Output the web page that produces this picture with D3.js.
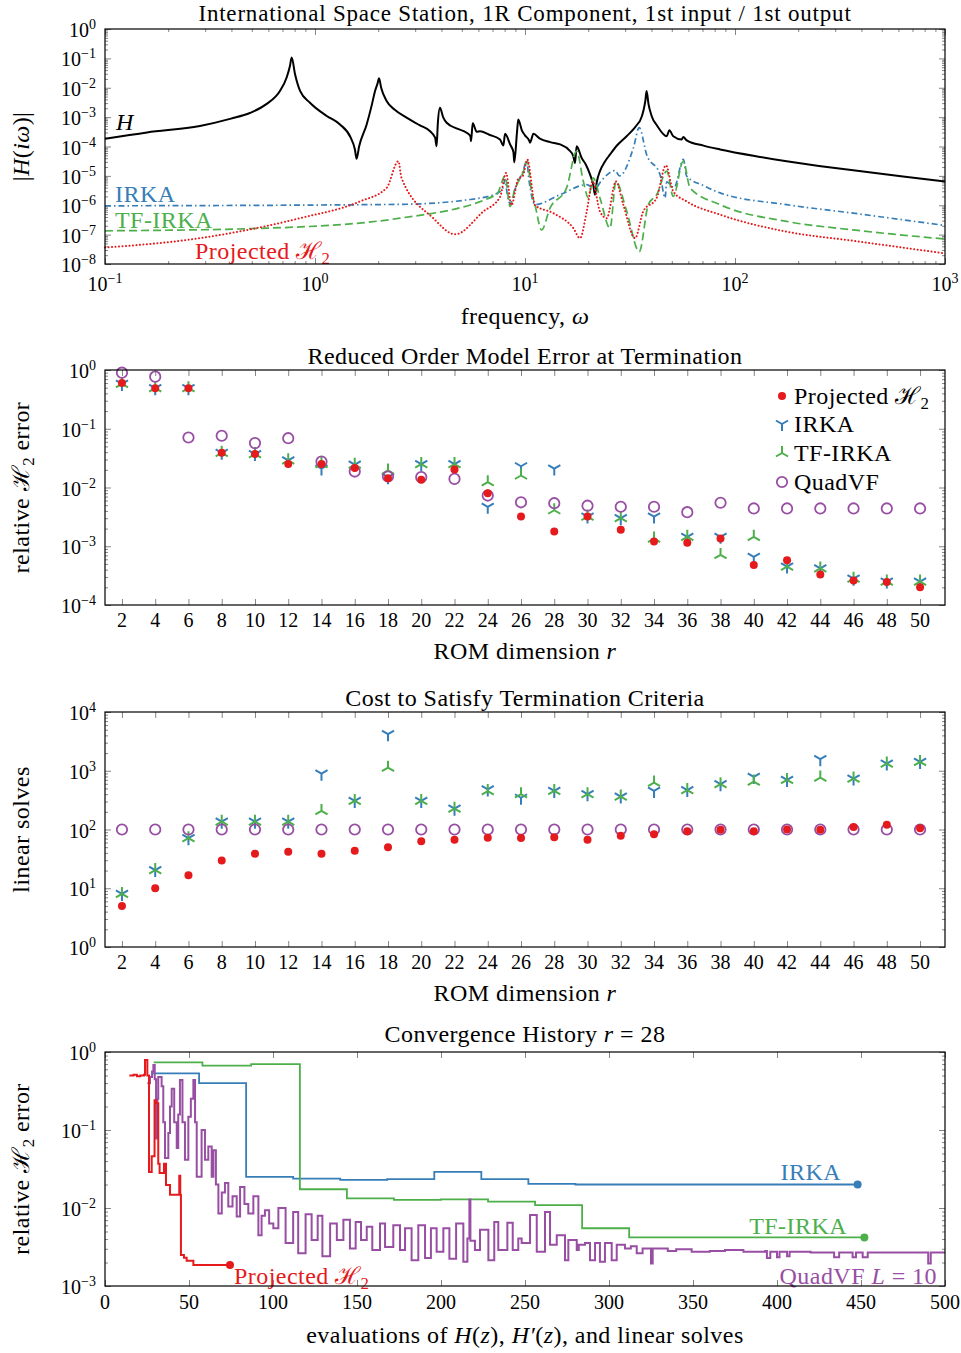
<!DOCTYPE html>
<html>
<head>
<meta charset="utf-8">
<script src="https://cdn.jsdelivr.net/npm/d3@7"></script>
<style>
  body { margin: 0; background: #fff; }
</style>
</head>
<body>
<script>
// ── Data: panel 1, frequency response ([log10 ω, log10 |H(iω)|]) ──
const freqH = [
  [-1.0,-3.74],[-0.8,-3.52],[-0.548,-3.30],[-0.4,-3.05],[-0.31,-2.86],[-0.23,-2.55],[-0.167,-2.11],
  [-0.135,-1.65],[-0.119,-1.25],[-0.111,-0.97],[-0.095,-1.54],[-0.071,-2.11],[-0.024,-2.51],[0.056,-2.96],
  [0.119,-3.25],[0.17,-3.70],[0.19,-4.10],[0.198,-4.42],[0.21,-4.00],[0.246,-3.25],[0.27,-2.60],
  [0.286,-2.11],[0.298,-1.85],[0.305,-1.68],[0.315,-2.00],[0.341,-2.45],[0.38,-2.75],[0.436,-3.02],
  [0.5,-3.28],[0.548,-3.48],[0.572,-3.70],[0.579,-3.99],[0.585,-3.20],[0.595,-2.68],[0.61,-3.00],
  [0.627,-3.19],[0.68,-3.40],[0.722,-3.53],[0.74,-3.65],[0.743,-3.82],[0.751,-3.21],[0.770,-3.50],
  [0.786,-3.48],[0.83,-3.60],[0.881,-3.76],[0.897,-3.97],[0.905,-3.57],[0.929,-3.93],[0.945,-4.20],
  [0.949,-4.54],[0.962,-3.50],[0.968,-3.08],[0.985,-3.45],[1.0,-3.62],[1.02,-3.80],[1.024,-3.87],
  [1.040,-3.57],[1.071,-3.73],[1.12,-3.85],[1.167,-3.93],[1.21,-4.12],[1.230,-4.33],[1.238,-4.56],
  [1.246,-3.99],[1.270,-4.39],[1.29,-4.62],[1.310,-4.96],[1.325,-5.30],[1.333,-5.64],[1.342,-5.20],
  [1.357,-4.84],[1.38,-4.52],[1.405,-4.27],[1.44,-3.95],[1.484,-3.65],[1.52,-3.38],[1.540,-3.20],
  [1.548,-3.12],[1.565,-2.75],[1.573,-2.45],[1.579,-2.11],[1.588,-2.55],[1.603,-2.96],[1.63,-3.30],
  [1.675,-3.65],[1.687,-3.45],[1.706,-3.65],[1.746,-3.76],[1.754,-3.68],[1.770,-3.79],[1.85,-3.97],
  [1.929,-4.10],[2.1,-4.33],[2.246,-4.50],[2.4,-4.66],[2.563,-4.81],[2.8,-5.02],[3.0,-5.19]
];
const freqIrka = [
  [-1.0,-6.02],[0.405,-5.97],[0.722,-5.82],[0.865,-5.60],[0.895,-5.40],[0.905,-5.13],[0.915,-5.60],
  [0.929,-5.95],[0.95,-5.50],[0.968,-5.20],[0.990,-4.85],[1.008,-4.50],[1.02,-5.20],[1.048,-5.98],
  [1.167,-5.64],[1.294,-5.30],[1.333,-5.45],[1.36,-5.20],[1.429,-4.82],[1.45,-5.00],[1.516,-4.05],
  [1.544,-3.36],[1.579,-4.27],[1.643,-4.96],[1.667,-5.75],[1.675,-5.20],[1.71,-5.40],[1.754,-4.44],
  [1.770,-5.01],[1.85,-5.33],[1.929,-5.58],[2.246,-5.98],[2.563,-6.27],[3.0,-6.69]
];
const freqTfIrka = [
  [-1.0,-6.87],[-0.23,-6.78],[0.405,-6.44],[0.865,-5.64],[0.905,-5.01],[0.929,-6.04],[0.95,-5.50],
  [0.968,-5.20],[0.99,-4.90],[1.011,-4.50],[1.03,-5.50],[1.048,-6.00],[1.079,-6.84],[1.119,-6.10],
  [1.198,-5.41],[1.246,-4.16],[1.278,-5.19],[1.302,-5.75],[1.325,-5.07],[1.357,-5.75],[1.405,-6.78],
  [1.433,-5.19],[1.484,-6.20],[1.544,-7.58],[1.587,-5.98],[1.627,-5.64],[1.675,-4.84],[1.706,-5.70],
  [1.754,-4.50],[1.786,-5.41],[1.929,-5.98],[2.246,-6.55],[2.563,-6.84],[3.0,-7.15]
];
const freqProj = [
  [-1.0,-7.44],[-0.548,-7.12],[-0.071,-6.44],[0.214,-5.87],[0.341,-5.41],[0.397,-4.50],[0.412,-5.07],
  [0.563,-6.44],[0.667,-6.99],[0.802,-6.21],[0.881,-5.72],[0.910,-4.90],[0.935,-6.00],[0.968,-5.10],
  [0.990,-5.00],[1.011,-4.44],[1.048,-6.00],[1.135,-6.27],[1.230,-6.78],[1.262,-7.12],[1.294,-6.21],
  [1.322,-5.19],[1.357,-6.21],[1.389,-6.44],[1.433,-5.19],[1.468,-5.98],[1.524,-7.12],[1.563,-6.21],
  [1.627,-5.75],[1.671,-4.64],[1.706,-5.53],[1.770,-5.87],[1.929,-6.32],[2.246,-6.90],[2.563,-7.21],
  [3.0,-7.64]
];

// ── Data: panels 2 and 3, per ROM dimension ─────────────────────────────────────
const romDims = [2,4,6,8,10,12,14,16,18,20,22,24,26,28,30,32,34,36,38,40,42,44,46,48,50];

const errProjected = [0.60,0.49,0.49,0.039,0.037,0.025,0.025,0.0215,0.0144,0.0135,0.0203,0.0080,0.0032,
  0.00179,0.0032,0.0019,0.0012,0.00115,0.00135,0.00048,0.00058,0.00033,0.00026,0.000246,0.0002];
const errIrka = [0.58,0.49,0.49,0.039,0.037,0.029,0.021,0.0245,0.015,0.025,0.025,0.0047,0.023,
  0.021,0.0032,0.0030,0.0032,0.00145,0.00145,0.00066,0.00045,0.00042,0.00028,0.00025,0.00025];
const errTfIrka = [0.58,0.49,0.49,0.039,0.037,0.029,0.025,0.0245,0.0195,0.025,0.025,0.0123,0.016,
  0.0041,0.0032,0.0030,0.00135,0.00145,0.00071,0.00145,0.00045,0.00042,0.00028,0.00025,0.00025];
const errQuadVF = [0.90,0.77,0.071,0.076,0.057,0.069,0.0276,0.0187,0.0154,0.015,0.014,0.0073,0.0056,
  0.0054,0.0049,0.0047,0.0047,0.0038,0.0055,0.0044,0.0044,0.0044,0.0044,0.0044,0.0044];

const costProjected = [5.0,10,16.7,29.8,38.6,41.8,38.6,43.5,49.7,63,67,72.5,72,73.6,67,78,83,93,99,93,100,99,110,121,105];
const costIrka = [8.0,20.4,71,136,136,136,893,306,4190,306,226,480,347,453,400,363,453,470,590,785,697,1570,735,1325,1410];
const costTfIrka = [8.0,20.4,71,136,136,136,207,306,1130,306,226,450,400,453,400,363,628,470,590,655,697,765,735,1325,1410];
const costQuadVF = [100,100,100,100,100,100,100,100,100,100,100,100,100,100,100,100,100,100,100,100,100,100,100,100,100];

// ── Data: panel 4, convergence history at r = 28 ────────────────────────────────
const histIrkaEval = [28,56,84,112,140,168,196,224,252,280,308,336,364,392,420,448];
const histIrkaErr  = [0.533,0.40,0.0250,0.0238,0.0229,0.0235,0.029,0.0234,0.0204,0.0200,0.0200,0.0200,0.0200,0.0200,0.0200,0.0200];
const histTfIrkaEval = [29,58,87,116,144,172,200,228,256,284,312,340,368,396,424,452];
const histTfIrkaErr  = [0.738,0.67,0.70,0.0174,0.0133,0.0127,0.0129,0.0121,0.0109,0.0055,0.0042,0.0042,0.0042,0.0042,0.0042,0.0042];
const histProjEval = [14.5,17,19,21,23.2,23.8,25.2,26.2,27.8,29.5,30.4,31.7,32.5,35.1,36.3,38.7,44.2,44.8,45.2,47,48.6,52.6,74.4];
const histProjErr  = [0.50,0.51,0.49,0.50,0.51,0.79,0.50,0.029,0.046,0.24,0.22,0.037,0.028,0.037,0.0197,0.0148,0.026,0.0148,0.0025,0.0023,0.0021,0.00186,0.00186];
// QuadVF: [evaluations, log10 relative error]
const histQuadVF = [
  [25.2,-0.40],[26.8,-0.32],[28.0,-0.25],[28.8,-0.167],[29.6,-0.35],[30.4,-1.11],[31.2,-0.60],[31.7,-0.32],
  [33.7,-0.44],[34.7,-0.90],[35.7,-1.36],[37.7,-1.04],[38.7,-0.70],[39.7,-0.47],[41.2,-0.90],[42.7,-1.23],
  [43.6,-0.80],[44.6,-0.36],[46.1,-0.90],[47.6,-1.38],[49.6,-0.83],[51.1,-0.60],[52.6,-0.36],[53.6,-0.90],
  [54.6,-1.60],[57.5,-1.00],[59.5,-1.38],[61.5,-1.21],[63.5,-1.60],[64.5,-1.26],[66,-1.70],[67.5,-2.07],
  [69.5,-1.80],[71.4,-1.68],[73.4,-1.98],[75.9,-1.85],[78.4,-2.11],[80.4,-1.73],[83,-1.95],[85.3,-2.07],
  [88.3,-1.85],[91.3,-2.35],[93.2,-2.10],[95.2,-2.03],[97.7,-2.20],[100.2,-2.26],[103.2,-2.00],[105.2,-2.00],
  [107.5,-2.45],[112,-2.05],[115,-2.58],[119.4,-2.08],[123,-2.41],[126.6,-2.10],[129.4,-2.62],[134,-2.20],
  [138,-2.41],[141.9,-2.15],[145.8,-2.52],[149.2,-2.18],[152.4,-2.41],[155.8,-2.24],[159.1,-2.54],[163.7,-2.20],
  [166.7,-2.50],[171.6,-2.22],[175.6,-2.54],[178.6,-2.26],[182.5,-2.67],[186.5,-2.22],[190.5,-2.64],[194,-2.26],
  [197.4,-2.56],[201.4,-2.26],[205,-2.65],[209,-2.20],[213.3,-2.69],[215.7,-2.39],[216.9,-1.89],[217.5,-2.42],
  [220.2,-2.54],[223.2,-2.28],[228.2,-2.67],[231.7,-2.18],[234.1,-2.54],[239.5,-2.19],[242.7,-2.54],[246,-2.39],
  [248,-2.45],[253,-2.09],[257,-2.56],[261.9,-2.05],[264.9,-2.47],[268.9,-2.35],[273.8,-2.67],[275.8,-2.41],
  [280.8,-2.54],[282,-2.47],[285.7,-2.45],[288.7,-2.67],[291.7,-2.45],[294.6,-2.69],[297.6,-2.45],[301.6,-2.67],
  [304.6,-2.47],[309.5,-2.52],[313,-2.49],[316.5,-2.58],[320,-2.52],[325,-2.71],[326,-2.52],[335,-2.55],
  [340,-2.53],[349.2,-2.56],[360,-2.55],[369,-2.54],[380,-2.56],[393,-2.55],[394,-2.64],[396,-2.56],
  [400,-2.63],[401.5,-2.56],[406,-2.62],[407.5,-2.56],[420,-2.57],[434,-2.63],[437,-2.57],[445,-2.63],
  [447,-2.57],[451,-2.63],[454,-2.57],[470,-2.57],[490,-2.71],[491.5,-2.57],[500,-2.57]
];

// ── Style ───────────────────────────────────────────────────────────────────────
const FONT = '"Liberation Serif", "DejaVu Serif", serif';
const FS_LABEL = 24;
const FS_TICK = 20;
const LABEL_SPACING = 0.45;
const RED = '#e41a1c', BLUE = '#377eb8', GREEN = '#4daf4a', PURPLE = '#984ea3';
const TICK_COLOR = '#666';

const BOX1 = { l: 105, r: 945, t: 29,   b: 264 };
const BOX2 = { l: 105, r: 945, t: 370,  b: 605 };
const BOX3 = { l: 105, r: 945, t: 712,  b: 947 };
const BOX4 = { l: 105, r: 945, t: 1052, b: 1286 };

const svg = d3.select('body').append('svg')
  .attr('width', 961).attr('height', 1353)
  .style('font-family', FONT);

// ── Text helpers ────────────────────────────────────────────────────────────────
// parts: [{t, i (italic), sub, sup}]
function rich(textSel, parts) {
  let shift = 0;
  parts.forEach(p => {
    const ts = textSel.append('tspan').text(p.t);
    const want = p.sub ? 5 : p.sup ? -8 : 0;
    if (want !== shift) { ts.attr('dy', want - shift); shift = want; }
    if (p.sub || p.sup) ts.attr('font-size', '0.7em');
    if (p.i) ts.attr('font-style', 'italic');
  });
  return textSel;
}

function label(g, x, y, parts, o = {}) {
  const size = o.size || FS_LABEL;
  const t = g.append('text').attr('x', x).attr('y', y)
    .attr('font-size', size)
    .attr('text-anchor', o.anchor || 'start')
    .attr('fill', o.color || '#000');
  if (size !== FS_TICK) t.attr('letter-spacing', o.spacing ?? LABEL_SPACING);
  if (o.rotate) t.attr('transform', `rotate(-90,${x},${y})`);
  rich(t, typeof parts === 'string' ? [{ t: parts }] : parts);
  return t;
}

const H2 = [{ t: 'ℋ' }, { t: '2', sub: true }];
const pow10 = e => [{ t: '10' }, { t: e < 0 ? '\u2212' + (-e) : String(e), sup: true }];

// ── Axis helpers ────────────────────────────────────────────────────────────────
function logTicks(lo, hi) {
  const major = [], minor = [];
  for (let e = lo; e <= hi; e++) {
    major.push(Math.pow(10, e));
    if (e < hi) for (let m = 2; m <= 9; m++) minor.push(m * Math.pow(10, e));
  }
  return { major, minor };
}

function innerTicks(g, scale, box, dir, values, len) {
  const a = g.append('g');
  if (dir === 'y') {
    a.append('g').attr('transform', `translate(${box.l},0)`)
      .call(d3.axisRight(scale).tickValues(values).tickSize(len).tickFormat(''));
    a.append('g').attr('transform', `translate(${box.r},0)`)
      .call(d3.axisLeft(scale).tickValues(values).tickSize(len).tickFormat(''));
  } else {
    a.append('g').attr('transform', `translate(0,${box.t})`)
      .call(d3.axisBottom(scale).tickValues(values).tickSize(len).tickFormat(''));
    a.append('g').attr('transform', `translate(0,${box.b})`)
      .call(d3.axisTop(scale).tickValues(values).tickSize(len).tickFormat(''));
  }
  a.selectAll('.domain').remove();
  a.selectAll('.tick line').attr('stroke', TICK_COLOR).attr('stroke-width', 0.8);
}

function logAxisY(g, y, box, lo, hi) {
  const t = logTicks(lo, hi);
  innerTicks(g, y, box, 'y', t.minor, 3);
  innerTicks(g, y, box, 'y', t.major, 6);
  for (let e = lo; e <= hi; e++) {
    label(g, box.l - 9, y(Math.pow(10, e)) + 8, pow10(e), { size: FS_TICK, anchor: 'end' });
  }
}

function frame(g, box) {
  g.append('rect')
    .attr('x', box.l).attr('y', box.t)
    .attr('width', box.r - box.l).attr('height', box.b - box.t)
    .attr('fill', 'none').attr('stroke', '#000').attr('stroke-width', 1.2);
}

function triPath(L, down) {
  const s = down ? 1 : -1, a = 0.866 * L, b = 0.5 * L;
  return `M0,0L0,${s * L}M0,0L${-a},${-s * b}M0,0L${a},${-s * b}`;
}

// ── Panel 1: frequency response ─────────────────────────────────────────────────
{
  const g = svg.append('g');
  const x = d3.scaleLog().domain([1e-1, 1e3]).range([BOX1.l, BOX1.r]);
  const y = d3.scaleLog().domain([1e-8, 1e0]).range([BOX1.b, BOX1.t]);

  const xt = logTicks(-1, 3);
  innerTicks(g, x, BOX1, 'x', xt.minor, 3);
  innerTicks(g, x, BOX1, 'x', xt.major, 6);
  logAxisY(g, y, BOX1, -8, 0);
  for (let e = -1; e <= 3; e++) label(g, x(Math.pow(10, e)), 291, pow10(e), { size: FS_TICK, anchor: 'middle' });

  const line = d3.line()
    .curve(d3.curveMonotoneX)
    .x(d => x(Math.pow(10, d[0])))
    .y(d => y(Math.pow(10, d[1])));

  g.append('path').datum(freqH).attr('d', line)
    .attr('fill', 'none').attr('stroke', '#000').attr('stroke-width', 2);
  g.append('path').datum(freqIrka).attr('d', line)
    .attr('fill', 'none').attr('stroke', BLUE).attr('stroke-width', 1.7)
    .attr('stroke-dasharray', '6,3,1.5,3');
  g.append('path').datum(freqTfIrka).attr('d', line)
    .attr('fill', 'none').attr('stroke', GREEN).attr('stroke-width', 1.7)
    .attr('stroke-dasharray', '8,4');
  g.append('path').datum(freqProj).attr('d', line)
    .attr('fill', 'none').attr('stroke', RED).attr('stroke-width', 2)
    .attr('stroke-linecap', 'round').attr('stroke-dasharray', '0.1,3.4');

  label(g, 116, 130, [{ t: 'H', i: true }]);
  label(g, 115, 202, 'IRKA', { color: BLUE });
  label(g, 115, 228, 'TF-IRKA', { color: GREEN });
  label(g, 195, 259, [{ t: 'Projected ' }, ...H2], { color: RED });

  frame(g, BOX1);
  label(g, 525, 21, 'International Space Station, 1R Component, 1st input / 1st output',
    { anchor: 'middle', size: 23, spacing: 0.8 });
  label(g, 525, 324, [{ t: 'frequency, ' }, { t: 'ω', i: true }], { anchor: 'middle' });
  label(g, 29, (BOX1.t + BOX1.b) / 2, [{ t: '|' }, { t: 'H', i: true }, { t: '(' }, { t: 'iω', i: true }, { t: ')|' }],
    { anchor: 'middle', rotate: true });
}

// ── Panels 2 and 3: markers per ROM dimension ──────────────────────────────────
function romPanel(box, yDomain, lo, hi, series, title, ylabelParts, legend) {
  const g = svg.append('g');
  const x = d3.scaleLinear().domain([0.98, 51.5]).range([box.l, box.r]);
  const y = d3.scaleLog().domain(yDomain).range([box.b, box.t]);

  innerTicks(g, x, box, 'x', romDims, 6);
  logAxisY(g, y, box, lo, hi);
  romDims.forEach(r => label(g, x(r), box.b + 22, String(r), { size: FS_TICK, anchor: 'middle' }));

  const pts = vals => romDims.map((r, i) => [r, vals[i]]);
  const [proj, irka, tf, quad] = series;

  g.append('g').selectAll('path').data(pts(irka)).join('path')
    .attr('transform', d => `translate(${x(d[0])},${y(d[1])})`)
    .attr('d', triPath(7, true)).attr('fill', 'none').attr('stroke', BLUE).attr('stroke-width', 2);
  g.append('g').selectAll('path').data(pts(tf)).join('path')
    .attr('transform', d => `translate(${x(d[0])},${y(d[1])})`)
    .attr('d', triPath(7, false)).attr('fill', 'none').attr('stroke', GREEN).attr('stroke-width', 2);
  g.append('g').selectAll('circle').data(pts(quad)).join('circle')
    .attr('cx', d => x(d[0])).attr('cy', d => y(d[1])).attr('r', 5.2)
    .attr('fill', 'none').attr('stroke', PURPLE).attr('stroke-width', 1.8);
  g.append('g').selectAll('circle').data(pts(proj)).join('circle')
    .attr('cx', d => x(d[0])).attr('cy', d => y(d[1])).attr('r', 4)
    .attr('fill', RED);

  if (legend) {
    const lx = 782, rows = [396, 424, 453, 482];
    g.append('circle').attr('cx', lx).attr('cy', rows[0]).attr('r', 4).attr('fill', RED);
    g.append('path').attr('transform', `translate(${lx},${rows[1]})`).attr('d', triPath(7, true))
      .attr('fill', 'none').attr('stroke', BLUE).attr('stroke-width', 2);
    g.append('path').attr('transform', `translate(${lx},${rows[2]})`).attr('d', triPath(7, false))
      .attr('fill', 'none').attr('stroke', GREEN).attr('stroke-width', 2);
    g.append('circle').attr('cx', lx).attr('cy', rows[3]).attr('r', 5.2)
      .attr('fill', 'none').attr('stroke', PURPLE).attr('stroke-width', 1.8);
    label(g, lx + 12, rows[0] + 8, [{ t: 'Projected ' }, ...H2]);
    label(g, lx + 12, rows[1] + 8, 'IRKA');
    label(g, lx + 12, rows[2] + 8, 'TF-IRKA');
    label(g, lx + 12, rows[3] + 8, 'QuadVF');
  }

  frame(g, box);
  label(g, 525, box.t - 6, title, { anchor: 'middle' });
  label(g, 525, box.b + 54, [{ t: 'ROM dimension ' }, { t: 'r', i: true }], { anchor: 'middle' });
  label(g, 29, (box.t + box.b) / 2, ylabelParts, { anchor: 'middle', rotate: true });
}

romPanel(BOX2, [1e-4, 1e0], -4, 0, [errProjected, errIrka, errTfIrka, errQuadVF],
  'Reduced Order Model Error at Termination',
  [{ t: 'relative ' }, ...H2, { t: ' error' }], true);

romPanel(BOX3, [1e0, 1e4], 0, 4, [costProjected, costIrka, costTfIrka, costQuadVF],
  'Cost to Satisfy Termination Criteria', 'linear solves', false);

// ── Panel 4: convergence history ────────────────────────────────────────────────
{
  const g = svg.append('g');
  const x = d3.scaleLinear().domain([0, 500]).range([BOX4.l, BOX4.r]);
  const y = d3.scaleLog().domain([1e-3, 1e0]).range([BOX4.b, BOX4.t]);
  const xTicks = [0, 50, 100, 150, 200, 250, 300, 350, 400, 450, 500];

  innerTicks(g, x, BOX4, 'x', xTicks, 6);
  logAxisY(g, y, BOX4, -3, 0);
  xTicks.forEach(v => label(g, x(v), BOX4.b + 23, String(v), { size: FS_TICK, anchor: 'middle' }));

  const step = d3.line().curve(d3.curveStepAfter).x(d => x(d[0])).y(d => y(d[1]));
  const zip = (a, b) => a.map((v, i) => [v, b[i]]);

  const irka = zip(histIrkaEval, histIrkaErr);
  const tf = zip(histTfIrkaEval, histTfIrkaErr);
  const proj = zip(histProjEval, histProjErr);
  const quad = histQuadVF.map(d => [d[0], Math.pow(10, d[1])]);

  g.append('path').datum(irka).attr('d', step).attr('fill', 'none').attr('stroke', BLUE).attr('stroke-width', 1.8);
  g.append('path').datum(tf).attr('d', step).attr('fill', 'none').attr('stroke', GREEN).attr('stroke-width', 1.8);
  g.append('path').datum(quad).attr('d', step).attr('fill', 'none').attr('stroke', PURPLE).attr('stroke-width', 2);
  g.append('path').datum(proj).attr('d', step).attr('fill', 'none').attr('stroke', RED).attr('stroke-width', 2);

  [[irka, BLUE], [tf, GREEN], [proj, RED]].forEach(([s, c]) => {
    const last = s[s.length - 1];
    g.append('circle').attr('cx', x(last[0])).attr('cy', y(last[1])).attr('r', 4).attr('fill', c);
  });

  label(g, 841, 1180, 'IRKA', { anchor: 'end', color: BLUE });
  label(g, 847, 1234, 'TF-IRKA', { anchor: 'end', color: GREEN });
  label(g, 234, 1284, [{ t: 'Projected ' }, ...H2], { color: RED });
  label(g, 937, 1284, [{ t: 'QuadVF ' }, { t: 'L', i: true }, { t: ' = 10' }], { anchor: 'end', color: PURPLE });

  frame(g, BOX4);
  label(g, 525, BOX4.t - 10, [{ t: 'Convergence History ' }, { t: 'r', i: true }, { t: ' = 28' }], { anchor: 'middle' });
  label(g, 525, 1343, [{ t: 'evaluations of ' }, { t: 'H', i: true }, { t: '(' }, { t: 'z', i: true }, { t: '), ' },
    { t: 'H′', i: true }, { t: '(' }, { t: 'z', i: true }, { t: '), and linear solves' }], { anchor: 'middle' });
  label(g, 29, (BOX4.t + BOX4.b) / 2, [{ t: 'relative ' }, ...H2, { t: ' error' }], { anchor: 'middle', rotate: true });
}
</script>
</body>
</html>
